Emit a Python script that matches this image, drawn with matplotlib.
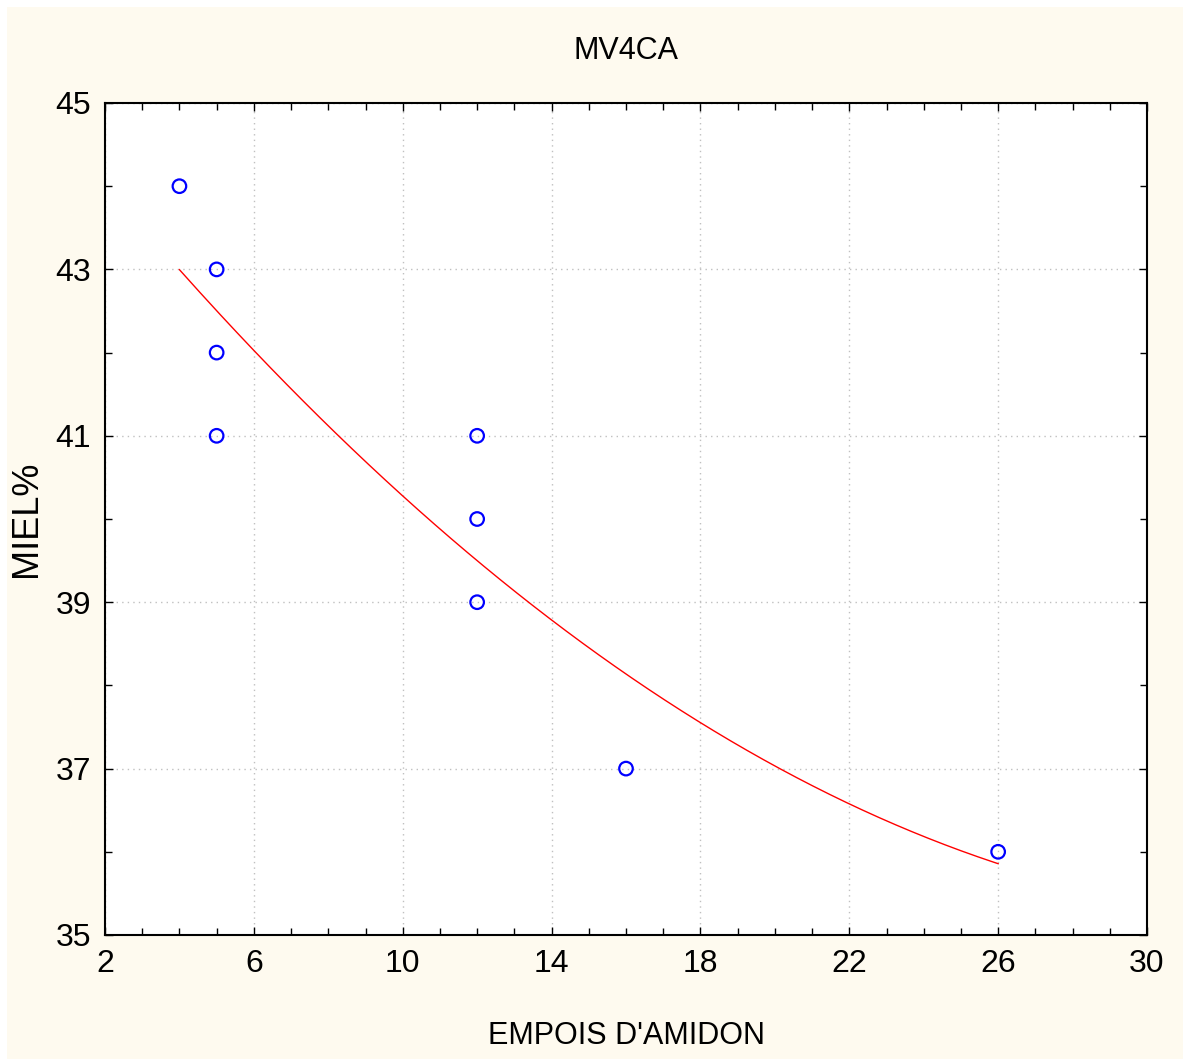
import numpy as np
import matplotlib
matplotlib.use('Agg')
import matplotlib.pyplot as plt
from matplotlib.patches import Rectangle
from matplotlib.ticker import FixedLocator, MultipleLocator

plt.rcParams['font.family'] = ['Liberation Sans Narrow', 'Liberation Sans', 'DejaVu Sans']

# Дані
empois = [4, 5, 5, 5, 12, 12, 12, 16, 26]
miel = [44, 43, 42, 41, 41, 40, 39, 37, 36]
x_ticks = [2, 6, 10, 14, 18, 22, 26, 30]
y_ticks = [35, 37, 39, 41, 43, 45]

# Квадратична апроксимація
coef = np.polyfit(empois, miel, 2)
x_fit = np.linspace(min(empois), max(empois), 200)
y_fit = np.polyval(coef, x_fit)

cream = '#fefaef'
fig = plt.figure(figsize=(11.83, 10.59), dpi=100, facecolor='white')
fig.patches.append(Rectangle((7 / 1183, 0), 1, 1 - 7 / 1059, transform=fig.transFigure,
                             facecolor=cream, edgecolor='none', zorder=-10))
ax = fig.add_axes([105 / 1183, 1 - 935 / 1059, (1147 - 105) / 1183, (935 - 103) / 1059])
ax.set_facecolor('white')

ax.plot(x_fit, y_fit, color='red', linewidth=1.0, zorder=2)
ax.scatter(empois, miel, s=95, facecolors='none', edgecolors='blue', linewidths=1.6, zorder=3)

ax.set_xlim(2, 30)
ax.set_ylim(35, 45)
ax.xaxis.set_major_locator(FixedLocator(x_ticks))
ax.xaxis.set_minor_locator(MultipleLocator(1))
ax.yaxis.set_major_locator(FixedLocator(y_ticks))
ax.yaxis.set_minor_locator(MultipleLocator(1))
ax.tick_params(which='both', direction='in', top=True, right=True, labelsize=23, width=1, color='black')
ax.tick_params(which='major', length=6, pad=10)
ax.tick_params(which='minor', length=5)
ax.grid(True, which='major', linestyle=(0, (1, 3)), color='#c0c0c0', linewidth=1)
for s in ax.spines.values():
    s.set_linewidth(1.5)

ax.set_title('MV4CA', fontsize=22, pad=32)
ax.set_xlabel("EMPOIS D'AMIDON", fontsize=22, labelpad=30)
ax.set_ylabel('MIEL%', fontsize=26, labelpad=8)

fig.savefig('out.png', dpi=100, facecolor=fig.get_facecolor())
